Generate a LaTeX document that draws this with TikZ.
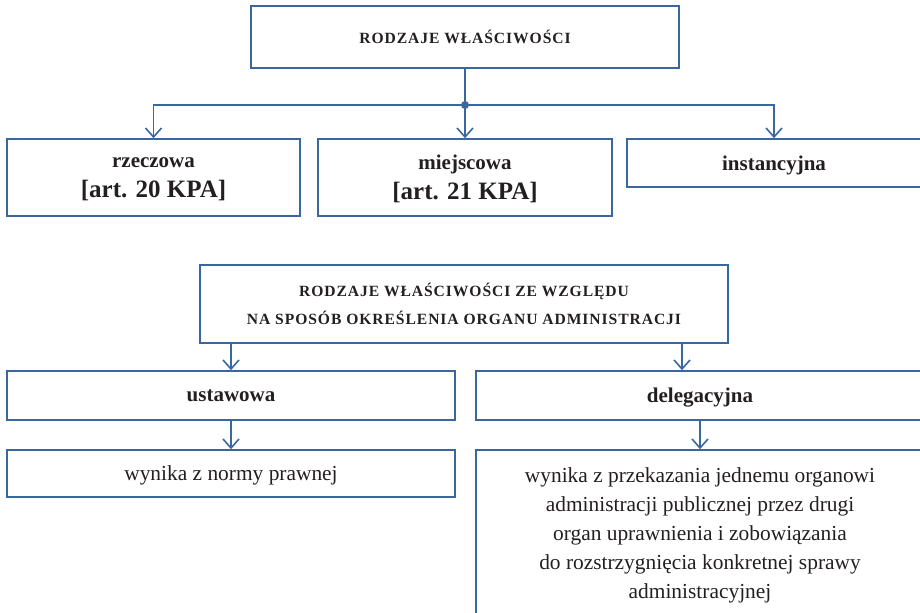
\documentclass[tikz,border=0pt]{standalone}
\usepackage{fontspec}
\setmainfont{Liberation Serif}
\newfontfamily\capsfont[LetterSpace=6]{Liberation Serif}
\usepackage{xcolor}
\usetikzlibrary{arrows.meta,positioning}
\definecolor{lineblue}{RGB}{58,104,158}
\definecolor{inkgray}{RGB}{35,31,32}

\begin{document}
\begin{tikzpicture}[x=0.5pt, y=-0.5pt,
			box/.style={draw=lineblue, line width=0.8pt, align=center,
				inner sep=0pt, text=inkgray},
			headnd/.style={box, font=\capsfont\bfseries\fontsize{7.8}{14}\selectfont},
			kindnd/.style={box, text depth=-1pt, font=\bfseries\fontsize{10.5}{15}\selectfont},
			descnd/.style={box, text depth=-1pt, font=\fontsize{10.7}{14.5}\selectfont},
			link/.style={draw=lineblue, line width=0.8pt},
			arr/.style={link, -{Straight Barb[length=4.5pt, width=8pt]}},
			]
			
			\useasboundingbox (0,0) rectangle (920,613);
			\clip (0,0) rectangle (920,613);
			
			%% ── Rodzaje właściwości ──────────────────────────────────────────────────────
			\node[headnd, minimum width=214pt, minimum height=31pt] (head1) at (465, 37)
			{RODZAJE WŁAŚCIWOŚCI};
			
			\node[kindnd, minimum width=146.5pt, minimum height=38.5pt] (rzecz) at (153.5, 177.5)
			{rzeczowa\\{\fontsize{12.5}{15}\selectfont [art. 20 KPA]}};
			
			\node[kindnd, minimum width=147pt, minimum height=38.5pt] (miejsc) at (465, 177.5)
			{miejscowa\\{\fontsize{12.5}{15}\selectfont [art. 21 KPA]}};
			
			\node[kindnd, minimum width=147pt, minimum height=24pt] (instanc) at (774, 163)
			{instancyjna};
			
			%% ── Ze względu na sposób określenia organu ───────────────────────────────────
			\node[headnd, minimum width=264pt, minimum height=39pt] (head2) at (464, 304)
			{RODZAJE WŁAŚCIWOŚCI ZE WZGLĘDU\\NA SPOSÓB OKREŚLENIA ORGANU ADMINISTRACJI};
			
			\node[kindnd, minimum width=224pt, minimum height=24.5pt] (ustaw) at (231, 395.5)
			{ustawowa};
			
			\node[kindnd, minimum width=224pt, minimum height=24.5pt] (deleg) at (700, 395.5)
			{delegacyjna};
			
			\node[descnd, minimum width=224pt, minimum height=23.5pt] (wyn1) at (231, 473.5)
			{wynika z normy prawnej};
			
			\node[descnd, minimum width=224pt, minimum height=83pt] (wyn2) at (700, 533)
			{wynika z przekazania jednemu organowi\\
				administracji publicznej przez drugi\\
				organ uprawnienia i zobowiązania\\
				do rozstrzygnięcia konkretnej sprawy\\
				administracyjnej};
			
			%% ── Connectors ───────────────────────────────────────────────────────────────
			\coordinate (hub) at (465, 105);
			\draw[link] (head1) -- (hub);
			\fill[lineblue] (hub) circle (2pt);
			\draw[arr] (hub) -| (rzecz.north);
			\draw[arr] (hub) -- (miejsc.north);
			\draw[arr] (hub) -| (instanc.north);
			
			\draw[arr] (ustaw.north |- head2.south) -- (ustaw.north);
			\draw[arr] ([xshift=-9pt]deleg.north |- head2.south) -- ([xshift=-9pt]deleg.north);
			\draw[arr] (ustaw) -- (wyn1);
			\draw[arr] (deleg) -- (wyn2);
			
		\end{tikzpicture}
\end{document}
